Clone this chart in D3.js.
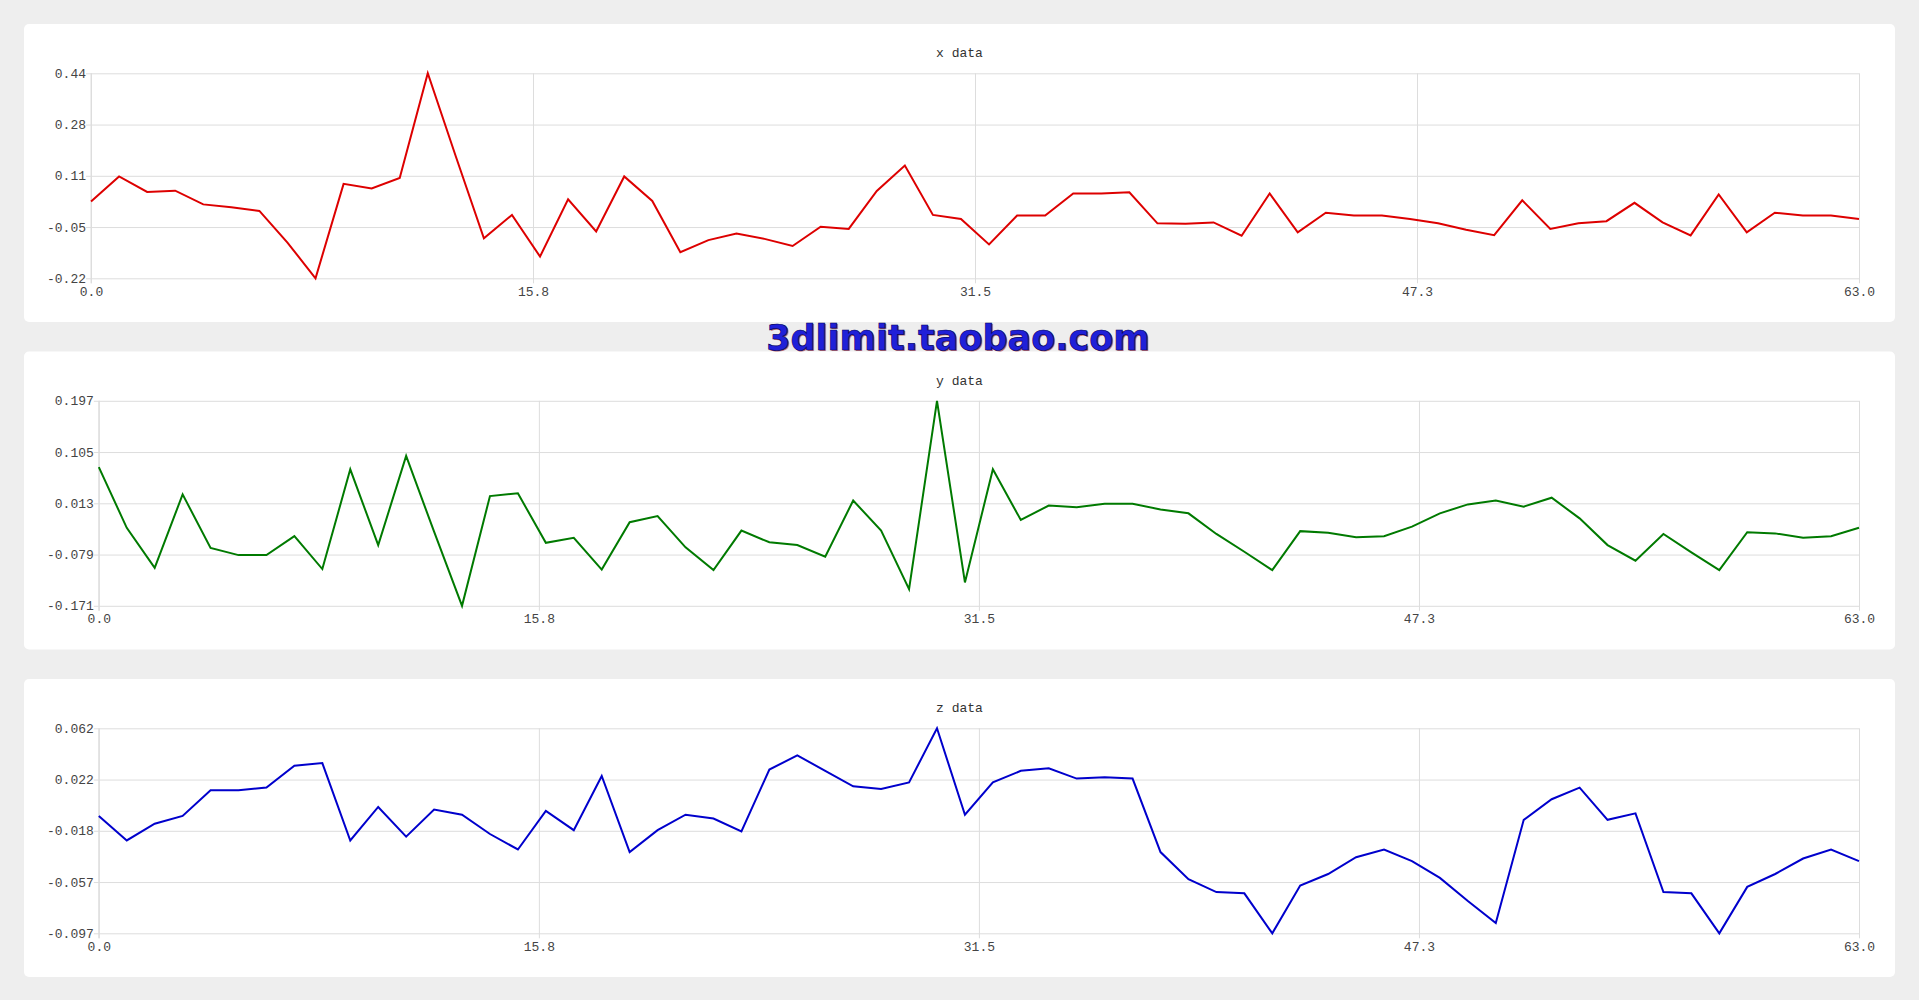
<!DOCTYPE html>
<html><head><meta charset="utf-8">
<script src="https://cdn.jsdelivr.net/npm/d3@7"></script>
<style>
html,body{margin:0;padding:0;background:#eeeeee;}
svg{display:block;}
</style></head><body>
<svg id="chart" width="1919" height="1000"></svg>
<script>
const xIndex = d3.range(64);
const xData = [0.027,0.108,0.058,0.062,0.018,0.009,-0.003,-0.105,-0.22,0.084,0.069,0.103,0.44,0.172,-0.091,-0.016,-0.150,0.034,-0.069,0.108,0.029,-0.136,-0.097,-0.076,-0.093,-0.116,-0.054,-0.061,0.061,0.143,-0.016,-0.029,-0.111,-0.018,-0.018,0.053,0.053,0.057,-0.043,-0.044,-0.040,-0.083,0.053,-0.072,-0.009,-0.018,-0.018,-0.029,-0.043,-0.064,-0.081,0.031,-0.061,-0.043,-0.036,0.023,-0.040,-0.082,0.050,-0.072,-0.009,-0.018,-0.018,-0.029];
const yData = [0.078,-0.031,-0.103,0.029,-0.067,-0.080,-0.080,-0.046,-0.105,0.074,-0.062,0.098,-0.038,-0.171,0.026,0.031,-0.058,-0.049,-0.106,-0.021,-0.010,-0.066,-0.107,-0.036,-0.057,-0.062,-0.083,0.018,-0.036,-0.141,0.197,-0.129,0.074,-0.017,0.009,0.006,0.012,0.012,0.002,-0.005,-0.042,-0.074,-0.107,-0.037,-0.040,-0.048,-0.046,-0.029,-0.005,0.011,0.018,0.007,0.023,-0.014,-0.062,-0.090,-0.042,-0.075,-0.107,-0.039,-0.041,-0.049,-0.046,-0.031];
const zData = [-0.006,-0.025,-0.012,-0.006,0.014,0.014,0.016,0.033,0.035,-0.025,0.001,-0.022,-0.001,-0.005,-0.020,-0.032,-0.002,-0.017,0.025,-0.034,-0.017,-0.005,-0.008,-0.018,0.030,0.041,0.029,0.017,0.015,0.020,0.062,-0.005,0.020,0.029,0.031,0.023,0.024,0.023,-0.034,-0.055,-0.065,-0.066,-0.097,-0.060,-0.051,-0.038,-0.032,-0.041,-0.054,-0.072,-0.089,-0.009,0.007,0.016,-0.009,-0.004,-0.065,-0.066,-0.097,-0.061,-0.051,-0.039,-0.032,-0.041];

const titles = ["x data","y data","z data"];
const colors = ["#dd0000","#007a00","#0000cc"];
const xTickValues = [0, 15.75, 31.5, 47.25, 63];
const xTickLabels = ["0.0","15.8","31.5","47.3","63.0"];
const xYTickLabels = ["-0.22","-0.05","0.11","0.28","0.44"];
const yYTickLabels = ["-0.171","-0.079","0.013","0.105","0.197"];
const zYTickLabels = ["-0.097","-0.057","-0.018","0.022","0.062"];

const series = [xData, yData, zData];
const yTickLabelSets = [xYTickLabels, yYTickLabels, zYTickLabels];

const svg = d3.select("#chart");
const FONT = "'Liberation Mono', 'DejaVu Sans Mono', monospace";
const panelLeft = 24, panelRight = 1895, panelH = 298, plotTopOff = 49.3, plotH = 205;
const panelTops = [24, 351.5, 679];

series.forEach((data, i) => {
  const top = panelTops[i];
  const g = svg.append("g");
  g.append("rect").attr("x", panelLeft).attr("y", top)
    .attr("width", panelRight - panelLeft).attr("height", panelH)
    .attr("rx", 5).attr("fill", "#ffffff");

  const labels = yTickLabelSets[i];
  const tmp = g.append("text").style("font-family", FONT).style("font-size", "13px");
  let maxW = 0;
  labels.forEach(l => { tmp.text(l); maxW = Math.max(maxW, tmp.node().getComputedTextLength()); });
  tmp.remove();

  const left = panelLeft + 28 + maxW;
  const right = 1859;
  const plotTop = top + plotTopOff, plotBot = plotTop + plotH;

  const ext = d3.extent(data);
  const x = d3.scaleLinear().domain([0, 63]).range([left, right]);
  const y = d3.scaleLinear().domain(ext).range([plotBot, plotTop]);
  const yTickVals = d3.range(5).map(k => ext[0] + k * (ext[1] - ext[0]) / 4);

  g.append("text").attr("x", (panelLeft + panelRight) / 2).attr("y", top + 33)
    .attr("text-anchor", "middle").style("font-family", FONT).style("font-size", "13px")
    .attr("fill", "#333").text(titles[i]);

  const yAxis = d3.axisLeft(y).tickValues(yTickVals).tickSize(-(right - left)).tickSizeOuter(0)
    .tickFormat((d, k) => labels[k]).tickPadding(6);
  const ya = g.append("g").attr("transform", `translate(${left},0)`).call(yAxis);
  ya.select(".domain").remove();
  ya.selectAll("line").attr("stroke", "#dddddd").attr("x1", -5).attr("x2", right - left);
  ya.selectAll("text").attr("x", -5).style("font-family", FONT).style("font-size", "13px").attr("fill", "#444");

  const xAxis = d3.axisBottom(x).tickValues(xTickValues).tickSize(0)
    .tickFormat((d, k) => xTickLabels[k]);
  const xa = g.append("g").attr("transform", `translate(0,${plotBot})`).call(xAxis);
  xa.select(".domain").remove();
  xa.selectAll("line").attr("stroke", "#dddddd").attr("y1", 5).attr("y2", -plotH);
  xa.selectAll("text").attr("y", 8).style("font-family", FONT).style("font-size", "13px").attr("fill", "#444");

  g.append("line").attr("x1", left).attr("x2", left).attr("y1", plotTop).attr("y2", plotBot + 5)
    .attr("stroke", "#dddddd");

  const line = d3.line().x((d, k) => x(xIndex[k])).y(d => y(d));
  g.append("path").datum(data).attr("d", line).attr("fill", "none")
    .attr("stroke", colors[i]).attr("stroke-width", 2).attr("stroke-linejoin", "miter");
});

const wm = svg.append("g");
const wmText = "3dlimit.taobao.com";
const wmStyle = sel => sel.attr("x", 958).attr("y", 350).attr("text-anchor", "middle")
  .style("font-family", "'DejaVu Sans', Verdana, sans-serif").style("font-weight", "bold")
  .style("font-size", "35px").text(wmText);
wm.append("text").call(wmStyle).attr("fill", "#c07070").attr("transform", "translate(1.2,1)");
wm.append("text").call(wmStyle).attr("fill", "#2020d8").attr("stroke", "#000060").attr("stroke-width", 0.7);
</script>
</body></html>
